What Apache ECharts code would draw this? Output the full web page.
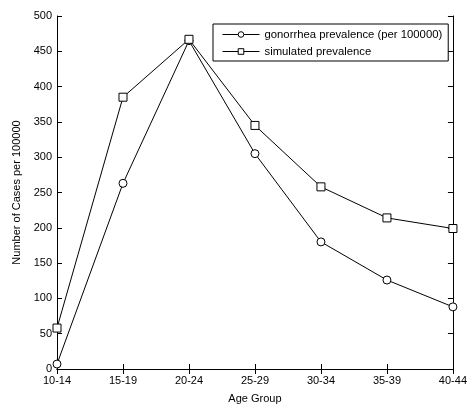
<!DOCTYPE html>
<html><head><meta charset="utf-8">
<script src="https://cdn.jsdelivr.net/npm/echarts@6/dist/echarts.min.js"></script>
<style>html,body{margin:0;padding:0;background:#fff}#c{width:470px;height:410px}</style>
</head><body><div id="c"></div>
<script>
const categories = ['10-14','15-19','20-24','25-29','30-34','35-39','40-44'];
const gonorrhea = [7, 263, 465, 305, 180, 126, 88];
const simulated = [58, 385, 467, 345, 258, 214, 199];
const yTicks = [0, 50, 100, 150, 200, 250, 300, 350, 400, 450, 500];

const font = 'Liberation Sans, Arial, sans-serif';
const chart = echarts.init(document.getElementById('c'));
const axLine = {show: true, lineStyle: {color: '#000', width: 1}};
chart.setOption({
  animation: false,
  backgroundColor: '#fff',
  textStyle: {fontFamily: font},
  grid: {left: 57, right: 13, top: 16, bottom: 41},
  legend: {
    orient: 'vertical', left: 213, top: 24,
    borderColor: '#000', borderWidth: 1, padding: [5, 6, 4, 9],
    itemWidth: 37, itemHeight: 7, itemGap: 6,
    lineStyle: {width: 1, color: '#000'},
    itemStyle: {borderWidth: 1, borderColor: '#000', color: '#fff'},
    textStyle: {fontFamily: font, fontSize: 11.3, color: '#000'},
    data: ['gonorrhea prevalence (per 100000)', 'simulated prevalence']
  },
  xAxis: [{
    type: 'category', data: categories, boundaryGap: false,
    name: 'Age Group', nameLocation: 'middle', nameGap: 24,
    nameTextStyle: {fontFamily: font, fontSize: 11, color: '#000'},
    axisLine: axLine,
    axisTick: {inside: true, length: 5, lineStyle: {color: '#000'}},
    axisLabel: {fontFamily: font, fontSize: 11, color: '#000', margin: 6},
    splitLine: {show: false}
  }, {
    type: 'category', data: categories, boundaryGap: false, position: 'top',
    axisLine: axLine,
    axisTick: {inside: true, length: 5, lineStyle: {color: '#000'}},
    axisLabel: {show: false}, splitLine: {show: false}
  }],
  yAxis: [{
    type: 'value', min: 0, max: 500, interval: 50,
    name: 'Number of Cases per 100000', nameLocation: 'middle', nameGap: 32,
    nameTextStyle: {fontFamily: font, fontSize: 11, color: '#000'},
    axisLine: axLine,
    axisTick: {show: true, inside: true, length: 5, lineStyle: {color: '#000'}},
    axisLabel: {fontFamily: font, fontSize: 11, color: '#000', margin: 5,
      formatter: v => yTicks.includes(v) ? String(v) : ''},
    splitLine: {show: false}
  }, {
    type: 'value', min: 0, max: 500, interval: 50, position: 'right',
    axisLine: axLine,
    axisTick: {show: true, inside: true, length: 5, lineStyle: {color: '#000'}},
    axisLabel: {show: false}, splitLine: {show: false}
  }],
  series: [{
    name: 'gonorrhea prevalence (per 100000)', type: 'line', data: gonorrhea,
    symbol: 'circle', symbolSize: 8,
    lineStyle: {color: '#000', width: 1},
    itemStyle: {color: '#fff', borderColor: '#000', borderWidth: 1},
    z: 3
  }, {
    name: 'simulated prevalence', type: 'line', data: simulated,
    symbol: 'rect', symbolSize: 8,
    lineStyle: {color: '#000', width: 1},
    itemStyle: {color: '#fff', borderColor: '#000', borderWidth: 1},
    z: 3
  }]
});
</script></body></html>
